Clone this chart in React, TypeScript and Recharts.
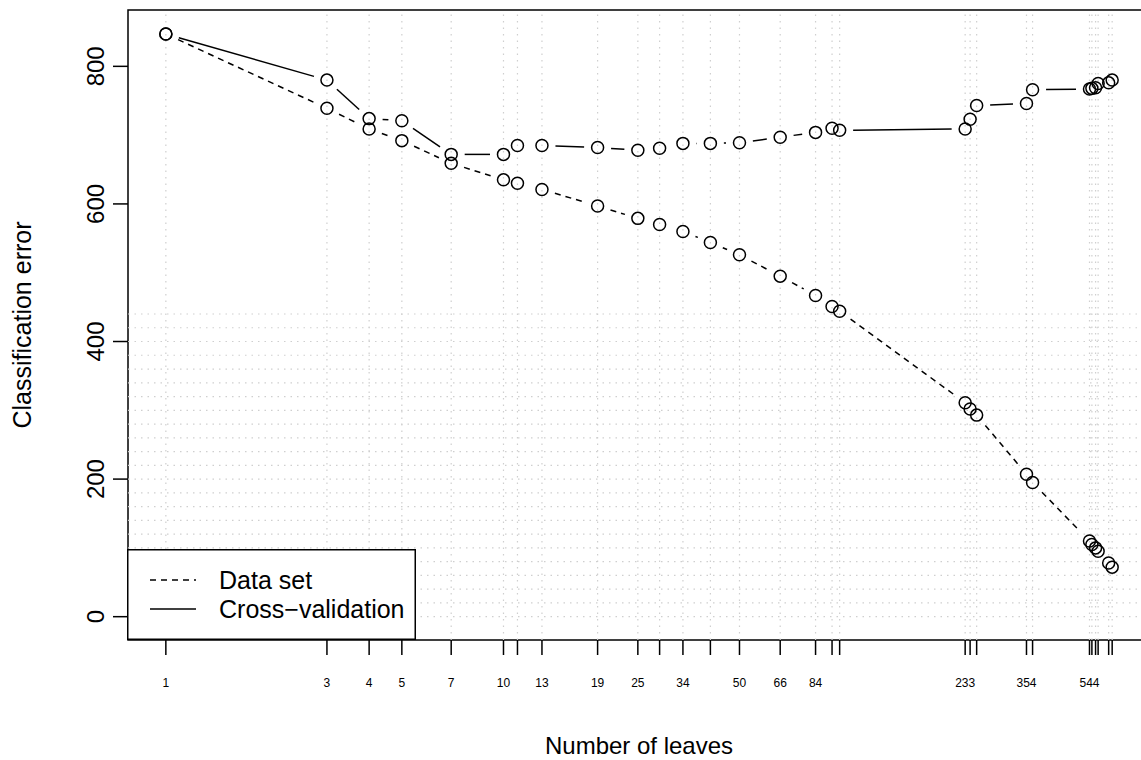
import React from 'react';
import {
  ComposedChart,
  Line,
  XAxis,
  YAxis,
  ReferenceLine,
  ReferenceArea,
  Legend
} from 'recharts';

// number of leaves of each pruned tree (log x axis)
const LEAVES = [1, 3, 4, 5, 7, 10, 11, 13, 19, 25, 29, 34, 41, 50, 66, 84, 94, 99, 233, 241, 252, 354, 369, 544, 553, 567, 577, 620, 635];
// R only printed the labels that did not overlap
const LABELED = [1, 3, 4, 5, 7, 10, 13, 19, 25, 34, 50, 66, 84, 233, 354, 544];
const DATA_SET = [847, 739, 709, 692, 659, 635, 630, 621, 597, 579, 570, 560, 544, 526, 495, 467, 451, 444, 311, 302, 293, 207, 195, 110, 105, 100, 95, 78, 72];
const CROSS_VAL = [847, 780, 724, 721, 672, 672, 685, 685, 682, 678, 681, 688, 688, 689, 697, 704, 710, 707, 709, 723, 743, 746, 766, 767, 768, 769, 775, 776, 780];
const Y_TICKS = [0, 200, 400, 600, 800];
const H_GRID = [0, 20, 40, 60, 80, 100, 120, 140, 160, 180, 200, 220, 240, 260, 280, 300, 320, 340, 360, 380, 400, 420, 440];

const X_DOMAIN = [0.7725, 821.9];
const Y_DOMAIN = [-33.9, 881.9];

const FONT = '"Liberation Sans", Arial, Helvetica, sans-serif';
const GAP = 13.5;

const dataSetRows = LEAVES.map((n, i) => ({ leaves: n, error: DATA_SET[i] }));
const crossValRows = LEAVES.map((n, i) => ({ leaves: n, error: CROSS_VAL[i] }));

// type = "b": circle at every point, segments stop short of the circles
const makeDot = (dash?: string) => (props: any) => {
  const { cx, cy, index, points } = props;
  const next = points && points[index + 1];
  let seg = null;
  if (next) {
    const dx = next.x - cx;
    const dy = next.y - cy;
    const len = Math.hypot(dx, dy);
    if (len > 2 * GAP) {
      const ux = dx / len;
      const uy = dy / len;
      seg = (
        <line
          x1={cx + ux * GAP}
          y1={cy + uy * GAP}
          x2={next.x - ux * GAP}
          y2={next.y - uy * GAP}
          stroke="#000"
          strokeWidth={1.5}
          strokeDasharray={dash}
        />
      );
    }
  }
  return (
    <g key={`d-${index}`}>
      {seg}
      <circle cx={cx} cy={cy} r={6} fill="none" stroke="#000" strokeWidth={1.5} />
    </g>
  );
};

const XTick = (props: any) => {
  const { x, y, payload } = props;
  if (!LABELED.includes(payload.value)) return null;
  return (
    <text x={x} y={y + 30} textAnchor="middle" fontSize={12} fontFamily={FONT} fill="#000">
      {payload.value}
    </text>
  );
};

const YTick = (props: any) => {
  const { y, payload } = props;
  return (
    <text
      transform={`translate(95,${y}) rotate(-90)`}
      textAnchor="middle"
      dominantBaseline="central"
      fontSize={24}
      fontFamily={FONT}
      fill="#000"
    >
      {payload.value}
    </text>
  );
};

const LegendBox = () => (
  <svg width={289} height={91} style={{ display: 'block' }}>
    <rect x={0.75} y={0.75} width={287.5} height={89.5} fill="#fff" stroke="#000" strokeWidth={1.5} />
    <line x1={23} x2={69} y1={31} y2={31} stroke="#000" strokeWidth={1.5} strokeDasharray="6 5" />
    <text x={92} y={31} dominantBaseline="central" fontSize={25} fontFamily={FONT}>Data set</text>
    <line x1={23} x2={69} y1={60} y2={60} stroke="#000" strokeWidth={1.5} />
    <text x={92} y={60} dominantBaseline="central" fontSize={25} fontFamily={FONT}>Cross−validation</text>
  </svg>
);

export default function App() {
  return (
    <div style={{ position: 'absolute', left: 0, top: 0, width: 1141, height: 760, overflow: 'hidden', background: '#fff' }}>
      <ComposedChart
        width={1160}
        height={760}
        margin={{ top: 10, right: 10, bottom: 90, left: 68 }}
      >
        <XAxis
          type="number"
          dataKey="leaves"
          scale="log"
          domain={X_DOMAIN}
          allowDataOverflow
          ticks={LEAVES}
          interval={0}
          height={30}
          tickSize={15}
          axisLine={false}
          tickLine={{ stroke: '#000', strokeWidth: 1.5 }}
          tick={<XTick />}
          label={{
            content: (p: any) => (
              <text
                x={p.viewBox.x + p.viewBox.width / 2}
                y={p.viewBox.y + 105}
                textAnchor="middle"
                dominantBaseline="central"
                fontSize={24}
                fontFamily={FONT}
              >
                Number of leaves
              </text>
            )
          }}
        />
        <YAxis
          type="number"
          dataKey="error"
          domain={Y_DOMAIN}
          allowDataOverflow
          ticks={Y_TICKS}
          interval={0}
          width={60}
          tickSize={15}
          axisLine={false}
          tickLine={{ stroke: '#000', strokeWidth: 1.5 }}
          tick={<YTick />}
          label={{
            content: (p: any) => (
              <text
                transform={`translate(22,${p.viewBox.y + p.viewBox.height / 2}) rotate(-90)`}
                textAnchor="middle"
                dominantBaseline="central"
                fontSize={25}
                fontFamily={FONT}
              >
                Classification error
              </text>
            )
          }}
        />
        {LEAVES.map(n => (
          <ReferenceLine key={`v-${n}`} x={n} stroke="#cfcfcf" strokeWidth={1.2} strokeDasharray="1.5 5" />
        ))}
        {H_GRID.map(v => (
          <ReferenceLine key={`h-${v}`} y={v} stroke="#cfcfcf" strokeWidth={1.2} strokeDasharray="1.5 5" />
        ))}
        <Line
          data={dataSetRows}
          dataKey="error"
          name="Data set"
          stroke="none"
          dot={makeDot('6 5')}
          activeDot={false}
          isAnimationActive={false}
        />
        <Line
          data={crossValRows}
          dataKey="error"
          name="Cross−validation"
          stroke="none"
          dot={makeDot()}
          activeDot={false}
          isAnimationActive={false}
        />
        <ReferenceArea
          x1={X_DOMAIN[0]}
          x2={X_DOMAIN[1]}
          y1={Y_DOMAIN[0]}
          y2={Y_DOMAIN[1]}
          fill="none"
          stroke="#000"
          strokeWidth={1.5}
          ifOverflow="visible"
        />
        <Legend
          layout="vertical"
          align="center"
          verticalAlign="middle"
          content={<LegendBox />}
          wrapperStyle={{ position: 'absolute', left: 127, top: 549, width: 289, height: 91 }}
        />
      </ComposedChart>
    </div>
  );
}
